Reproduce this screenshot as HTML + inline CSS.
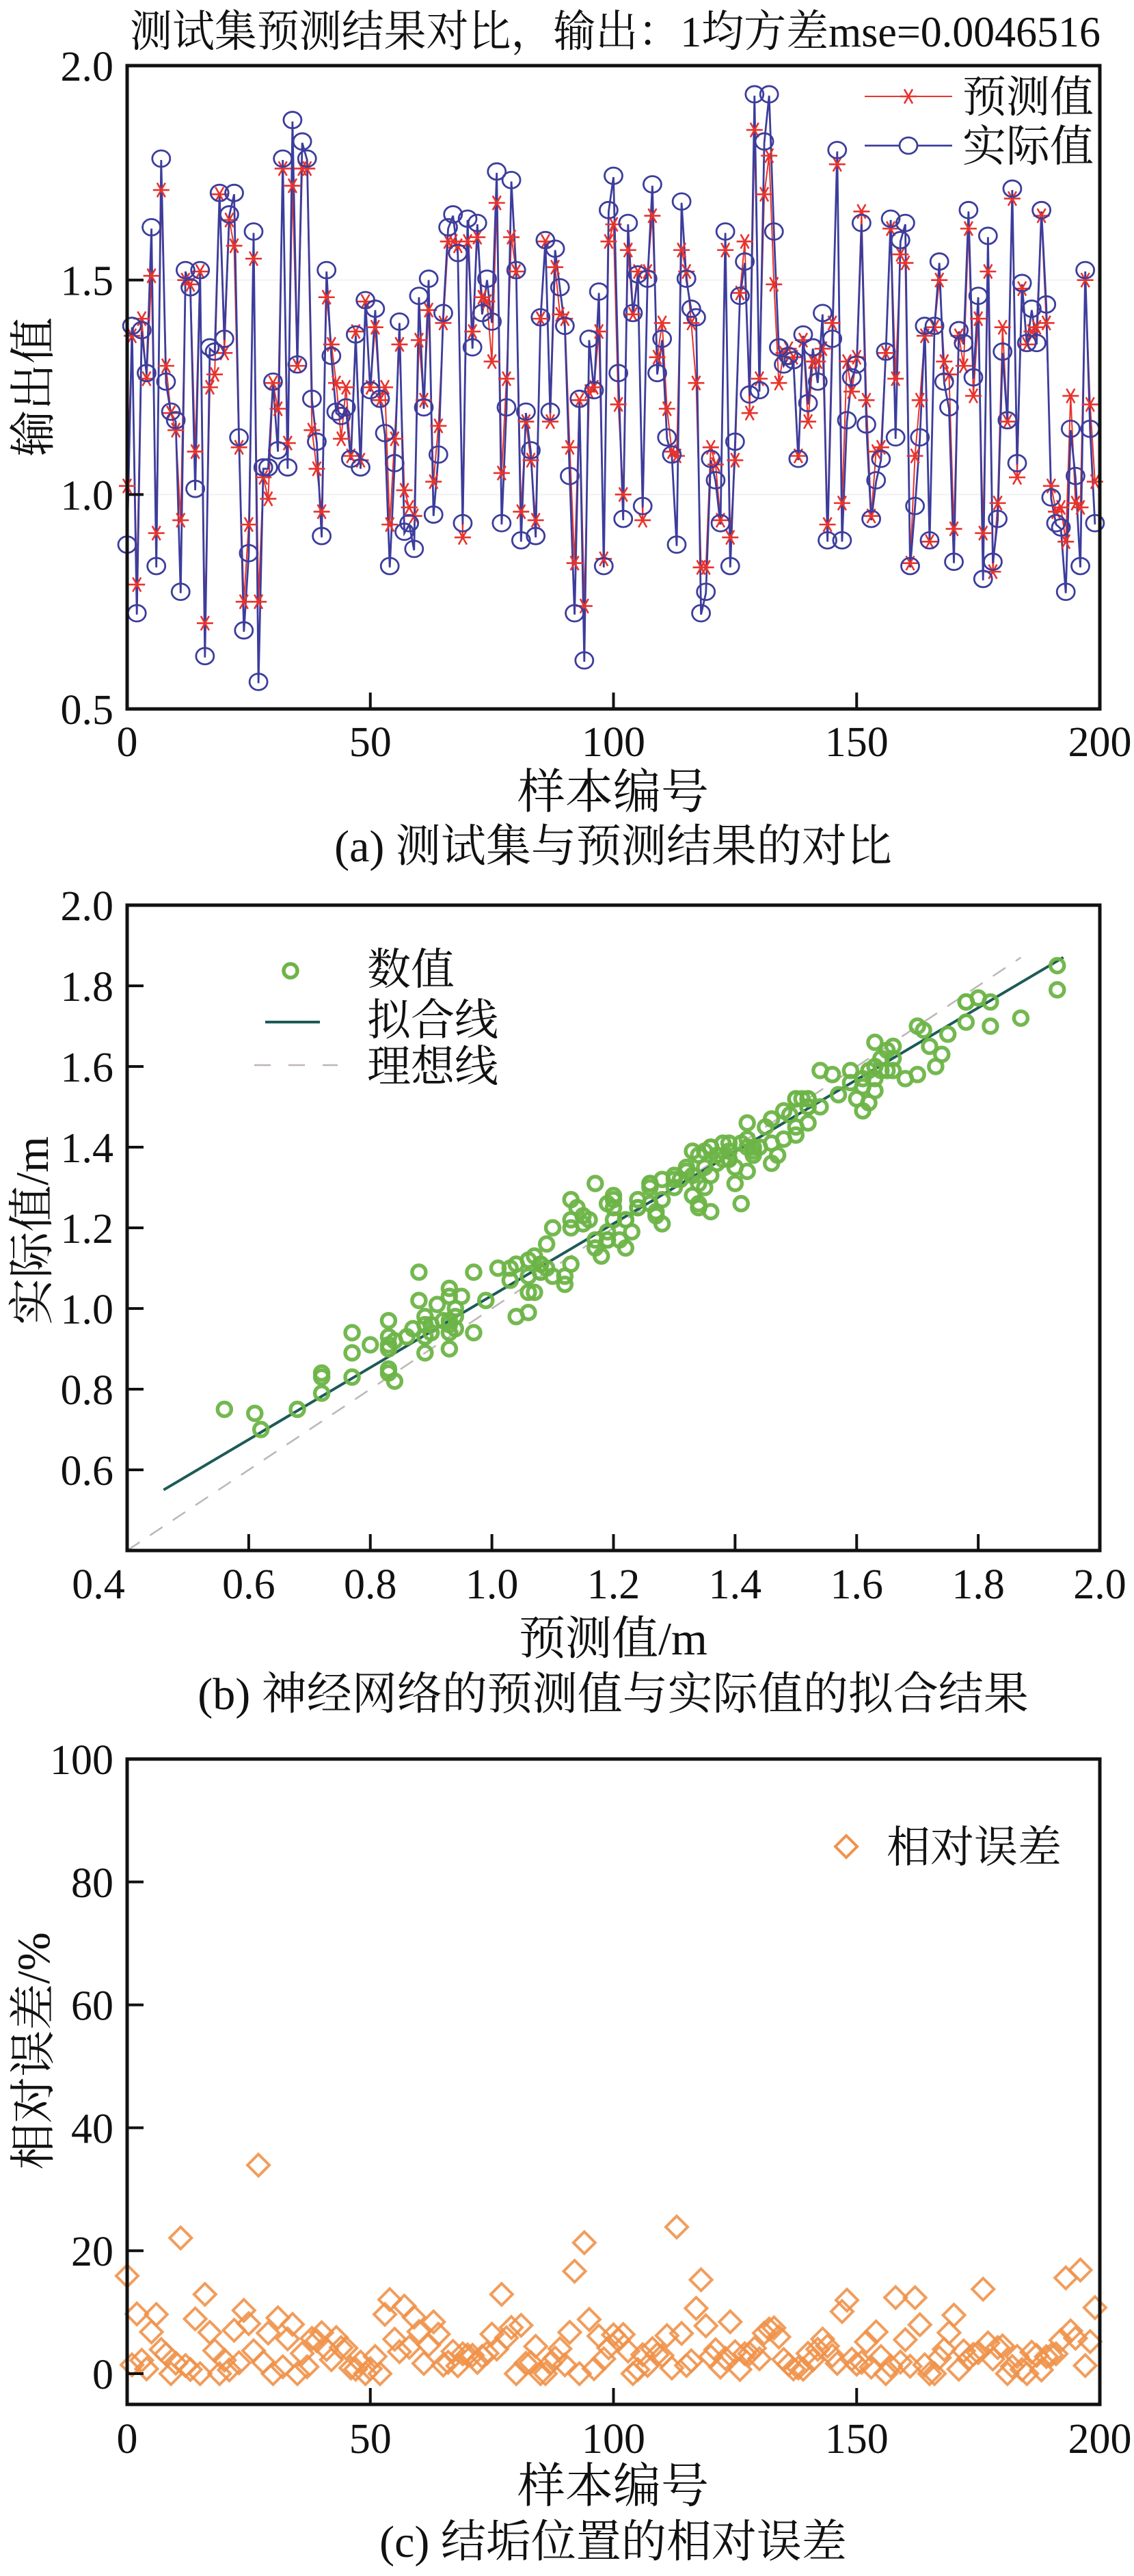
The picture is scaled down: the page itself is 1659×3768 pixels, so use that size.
<!DOCTYPE html>
<html><head><meta charset="utf-8">
<style>
html,body{margin:0;padding:0;background:#fff;}
svg{display:block;font-family:"Liberation Serif","Noto Serif CJK SC",serif;}
</style></head>
<body>
<svg id="fig" width="1659" height="3768" viewBox="0 0 1659 3768" xmlns="http://www.w3.org/2000/svg">
<rect x="0" y="0" width="1659" height="3768" fill="#fff"/>
<text x="900" y="68" font-size="64" text-anchor="middle" fill="#111" textLength="1420" lengthAdjust="spacingAndGlyphs">测试集预测结果对比，输出：1均方差mse=0.0046516</text>
<text transform="translate(72,566) rotate(-90)" font-size="68" text-anchor="middle" fill="#111">输出值</text>
<text x="897" y="1182" font-size="70" text-anchor="middle" fill="#111">样本编号</text>
<text x="897" y="1260" font-size="66" text-anchor="middle" fill="#111">(a)  测试集与预测结果的对比</text>
<text transform="translate(70,1800) rotate(-90)" font-size="68" text-anchor="middle" fill="#111">实际值/m</text>
<text x="897" y="2420" font-size="68" text-anchor="middle" fill="#111">预测值/m</text>
<text x="897" y="2500" font-size="66" text-anchor="middle" fill="#111">(b)  神经网络的预测值与实际值的拟合结果</text>
<text transform="translate(72,3000) rotate(-90)" font-size="68" text-anchor="middle" fill="#111">相对误差/%</text>
<text x="897" y="3660" font-size="70" text-anchor="middle" fill="#111">样本编号</text>
<text x="897" y="3740" font-size="66" text-anchor="middle" fill="#111">(c)  结垢位置的相对误差</text>
<g id="ga"></g>
<g id="gb"></g>
<g id="gc"></g>
</svg>
<script>
const actualValues=[0.88,1.39,0.72,1.38,1.28,1.62,0.83,1.78,1.26,1.19,1.17,0.77,1.52,1.48,1.01,1.52,0.62,1.34,1.33,1.70,1.36,1.65,1.70,1.13,0.68,0.86,1.61,0.56,1.06,1.06,1.26,1.10,1.78,1.06,1.87,1.30,1.82,1.78,1.22,1.12,0.90,1.52,1.32,1.19,1.18,1.20,1.08,1.37,1.06,1.45,1.24,1.43,1.22,1.14,0.83,1.07,1.40,0.91,0.93,0.87,1.46,1.20,1.50,0.95,1.09,1.42,1.62,1.65,1.56,0.93,1.64,1.34,1.63,1.42,1.50,1.40,1.75,0.93,1.20,1.73,1.52,0.89,1.19,1.10,0.90,1.41,1.59,1.19,1.57,1.48,1.39,1.04,0.72,1.22,0.61,1.36,1.24,1.47,0.83,1.66,1.74,1.28,0.94,1.63,1.42,1.51,0.97,1.50,1.72,1.28,1.36,1.13,1.09,0.88,1.68,1.50,1.43,1.41,0.72,0.77,1.08,1.03,0.93,1.61,0.83,1.12,1.46,1.54,1.23,1.93,1.24,1.82,1.93,1.61,1.34,1.30,1.32,1.31,1.08,1.37,1.21,1.34,1.26,1.42,0.89,1.36,1.80,0.89,1.17,1.27,1.30,1.63,1.16,0.94,1.03,1.08,1.33,1.64,1.13,1.59,1.63,0.83,0.97,1.13,1.39,0.89,1.39,1.54,1.26,1.20,0.84,1.38,1.35,1.66,1.27,1.46,0.80,1.60,0.84,0.94,1.33,1.17,1.71,1.07,1.49,1.35,1.43,1.35,1.66,1.44,0.99,0.93,0.92,0.77,1.15,1.04,0.83,1.52,1.15,0.93];
const predictedValues=[1.02,1.37,0.79,1.41,1.27,1.51,0.91,1.71,1.30,1.19,1.15,0.94,1.50,1.49,1.10,1.52,0.70,1.25,1.28,1.70,1.33,1.64,1.58,1.11,0.75,0.93,1.55,0.75,1.04,0.99,1.26,1.20,1.76,1.12,1.72,1.30,1.76,1.76,1.15,1.06,0.96,1.46,1.35,1.26,1.13,1.25,1.09,1.38,1.08,1.45,1.25,1.39,1.22,1.25,0.93,1.13,1.35,1.01,0.97,0.95,1.36,1.22,1.43,1.03,1.16,1.40,1.59,1.59,1.58,0.90,1.59,1.38,1.60,1.46,1.45,1.31,1.68,1.05,1.27,1.60,1.52,0.96,1.17,1.08,0.94,1.41,1.59,1.17,1.53,1.42,1.41,1.11,0.84,1.22,0.74,1.24,1.25,1.38,0.85,1.59,1.63,1.21,1.00,1.57,1.42,1.52,0.94,1.52,1.65,1.32,1.40,1.20,1.10,1.09,1.57,1.52,1.40,1.26,0.83,0.83,1.11,1.07,0.94,1.57,0.90,1.08,1.47,1.59,1.19,1.85,1.27,1.70,1.79,1.49,1.26,1.33,1.34,1.32,1.09,1.36,1.17,1.31,1.31,1.34,0.93,1.40,1.77,0.98,1.31,1.24,1.32,1.66,1.22,0.95,1.10,1.11,1.33,1.62,1.27,1.56,1.54,0.84,1.09,1.22,1.37,0.89,1.39,1.50,1.31,1.28,0.92,1.37,1.30,1.62,1.23,1.41,0.91,1.52,0.82,0.98,1.39,1.17,1.69,1.04,1.48,1.35,1.38,1.39,1.65,1.40,1.02,0.96,0.97,0.89,1.23,0.98,0.97,1.50,1.21,1.03];
const aYTicks=[0.5,1.0,1.5,2.0];
const aXTicks=[0,50,100,150,200];
const bTicks=[0.4,0.6,0.8,1.0,1.2,1.4,1.6,1.8,2.0];
const fitSlope=[0.892];
const fitIntercept=[0.14];
const fitRange=[0.46,1.94];
const idealRange=[0.4,1.87];
const cYTicks=[0,20,40,60,80,100];
const cXTicks=[0,50,100,150,200];
</script>
<script>
const NS="http://www.w3.org/2000/svg";
function mk(parent,tag,attrs){const e=document.createElementNS(NS,tag);for(const k in attrs)e.setAttribute(k,attrs[k]);parent.appendChild(e);return e;}
const L=186,R=1609;
function fmt1(v){return v.toFixed(1);}

/* ---------- Chart A ---------- */
(function(){
const g=document.getElementById('ga');
const T=96,B=1037;
const sx=i=>L+(i/200)*(R-L);
const sy=v=>B-(v-0.5)/1.5*(B-T);
[1.0,1.5].forEach(v=>{const l=mk(g,'line',{x1:L,x2:R,y1:sy(v),y2:sy(v),stroke:'#f1f1f1','stroke-width':2});

});
let dp='',da='';
predictedValues.forEach((v,i)=>{dp+=(i?'L':'M')+sx(i).toFixed(1)+' '+sy(v).toFixed(1);});
actualValues.forEach((v,i)=>{da+=(i?'L':'M')+sx(i).toFixed(1)+' '+sy(v).toFixed(1);});
const lp=mk(g,'path',{d:dp,fill:'none',stroke:'#e8332c','stroke-width':2});


const la=mk(g,'path',{d:da,fill:'none',stroke:'#3c3d9c','stroke-width':2.8});


function star(parent,x,y,s){const p=mk(parent,'path',{d:`M${x-s} ${y}L${x+s} ${y}M${x-s*0.5} ${y-s*0.87}L${x+s*0.5} ${y+s*0.87}M${x-s*0.5} ${y+s*0.87}L${x+s*0.5} ${y-s*0.87}`,stroke:'#e8332c','stroke-width':2.6,fill:'none'});return p;}
predictedValues.forEach((v,i)=>{const p=star(g,sx(i),sy(v),12);

});
actualValues.forEach((v,i)=>{const c=mk(g,'ellipse',{cx:sx(i),cy:sy(v)-2,rx:13,ry:12,fill:'none',stroke:'#3c3d9c','stroke-width':2.8});

});
const fr=mk(g,'rect',{x:L,y:T,width:R-L,height:B-T,fill:'none',stroke:'#111','stroke-width':5});


aYTicks.forEach(v=>{const y=sy(v);
if(v>0.5&&v<2){const t=mk(g,'line',{x1:L,x2:L+24,y1:y,y2:y,stroke:'#111','stroke-width':4});}
const tx=mk(g,'text',{x:166,y:y+22,'font-size':62,'text-anchor':'end',fill:'#111'});tx.textContent=fmt1(v);

});
aXTicks.forEach(v=>{const x=sx(v);
if(v>0&&v<200){const t=mk(g,'line',{x1:x,x2:x,y1:B,y2:B-24,stroke:'#111','stroke-width':4});}
const tx=mk(g,'text',{x:x,y:1106,'font-size':62,'text-anchor':'middle',fill:'#111'});tx.textContent=String(v);

});
const lg=mk(g,'g',{});


mk(lg,'line',{x1:1265,x2:1393,y1:141,y2:141,stroke:'#e8332c','stroke-width':2});
star(lg,1329,141,12);
const t1=mk(lg,'text',{x:1408,y:164,'font-size':64,fill:'#111'});t1.textContent='预测值';


mk(lg,'line',{x1:1265,x2:1393,y1:213,y2:213,stroke:'#3c3d9c','stroke-width':2.8});
mk(lg,'ellipse',{cx:1329,cy:213,rx:13,ry:12,fill:'#fff',stroke:'#3c3d9c','stroke-width':2.8});
const t2=mk(lg,'text',{x:1408,y:236,'font-size':64,fill:'#111'});t2.textContent='实际值';


})();

/* ---------- Chart B ---------- */
(function(){
const g=document.getElementById('gb');
const T=1324,B=2268;
const sx=v=>L+(v-0.4)/1.6*(R-L);
const sy=v=>B-(v-0.4)/1.6*(B-T);
const idl=mk(g,'line',{x1:sx(idealRange[0]),y1:sy(idealRange[0]),x2:sx(idealRange[1]),y2:sy(idealRange[1]),stroke:'#bdb6b3','stroke-width':2.5,'stroke-dasharray':'22 18'});


const f=x=>fitIntercept[0]+fitSlope[0]*x;
const fl=mk(g,'line',{x1:sx(fitRange[0]),y1:sy(f(fitRange[0])),x2:sx(fitRange[1]),y2:sy(f(fitRange[1])),stroke:'#1d5b57','stroke-width':4});


actualValues.forEach((v,i)=>{const c=mk(g,'circle',{cx:sx(v),cy:sy(predictedValues[i]),r:10,fill:'none',stroke:'#6db447','stroke-width':5.5,opacity:0.95});

});
const fr=mk(g,'rect',{x:L,y:T,width:R-L,height:B-T,fill:'none',stroke:'#111','stroke-width':5});


bTicks.forEach(v=>{
const y=sy(v),x=sx(v);
if(v>0.45&&v<1.95){
const t=mk(g,'line',{x1:L,x2:L+24,y1:y,y2:y,stroke:'#111','stroke-width':4});
const t2=mk(g,'line',{x1:x,x2:x,y1:B,y2:B-24,stroke:'#111','stroke-width':4});}
if(v>0.45){const ty=mk(g,'text',{x:166,y:y+22,'font-size':62,'text-anchor':'end',fill:'#111'});ty.textContent=fmt1(v);

}
const tx=mk(g,'text',{x:v<0.45?144:x,y:2338,'font-size':62,'text-anchor':'middle',fill:'#111'});tx.textContent=fmt1(v);

});
const lg=mk(g,'g',{});


mk(lg,'circle',{cx:425,cy:1420,r:10,fill:'none',stroke:'#6db447','stroke-width':5.5});
mk(lg,'line',{x1:388,x2:468,y1:1495,y2:1495,stroke:'#1d5b57','stroke-width':4});
mk(lg,'line',{x1:372,x2:494,y1:1558,y2:1558,stroke:'#bdb6b3','stroke-width':2.5,'stroke-dasharray':'24 26'});
[['数值',1440],['拟合线',1514],['理想线',1582]].forEach(([s,y])=>{const t=mk(lg,'text',{x:537,y:y,'font-size':64,fill:'#111'});t.textContent=s;

});
})();

/* ---------- Chart C ---------- */
(function(){
const g=document.getElementById('gc');
const T=2573,B=3517;
const sx=i=>L+(i/200)*(R-L);
const sy=v=>B-(v+5)/105*(B-T);
actualValues.forEach((a,i)=>{const e=Math.abs(predictedValues[i]-a)/a*100;const x=sx(i),y=sy(e),s=16;
const d=mk(g,'path',{d:`M${x} ${y-s}L${x+s} ${y}L${x} ${y+s}L${x-s} ${y}Z`,fill:'none',stroke:'#f0924a','stroke-width':4,opacity:0.9});

});
const fr=mk(g,'rect',{x:L,y:T,width:R-L,height:B-T,fill:'none',stroke:'#111','stroke-width':5});


cYTicks.forEach(v=>{const y=sy(v);
if(v<100){const t=mk(g,'line',{x1:L,x2:L+24,y1:y,y2:y,stroke:'#111','stroke-width':4});}
const tx=mk(g,'text',{x:166,y:y+22,'font-size':62,'text-anchor':'end',fill:'#111'});tx.textContent=String(v);

});
cXTicks.forEach(v=>{const x=sx(v);
if(v>0&&v<200){const t=mk(g,'line',{x1:x,x2:x,y1:B,y2:B-24,stroke:'#111','stroke-width':4});}
const tx=mk(g,'text',{x:x,y:3588,'font-size':62,'text-anchor':'middle',fill:'#111'});tx.textContent=String(v);

});
const lg=mk(g,'g',{});


mk(lg,'path',{d:'M1238 2685L1254 2701L1238 2717L1222 2701Z',fill:'none',stroke:'#f0924a','stroke-width':4});
const t=mk(lg,'text',{x:1297,y:2724,'font-size':64,fill:'#111'});t.textContent='相对误差';


})();
</script>
</body></html>
